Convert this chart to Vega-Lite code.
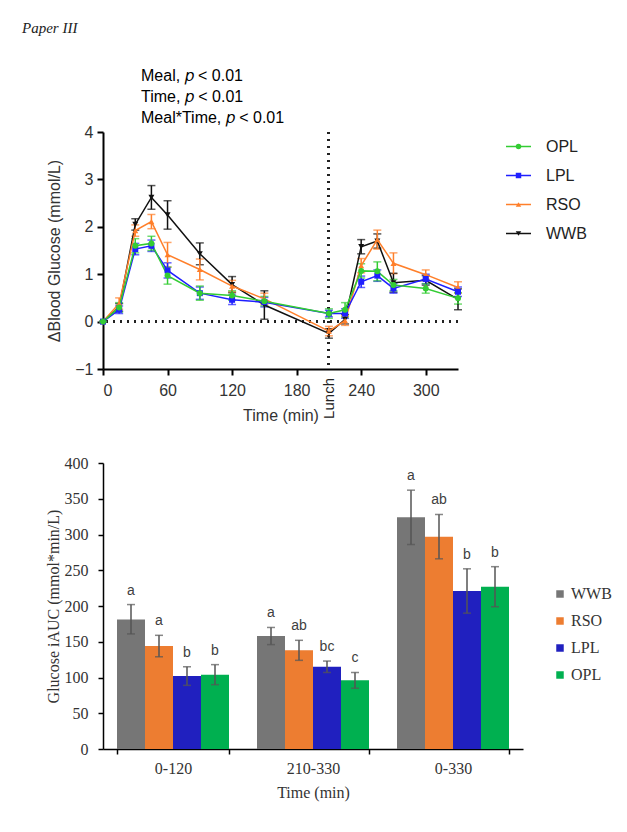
{
  "$schema": "https://vega.github.io/schema/vega-lite/v6.json",
  "background": "white",
  "padding": {"left": 22, "top": 21, "right": 5, "bottom": 5},
  "title": {"text": "Paper III", "anchor": "start", "frame": "bounds", "dx": -23, "font": "Liberation Serif", "fontStyle": "italic", "fontSize": 15, "fontWeight": "normal", "color": "#222", "offset": 32},
  "datasets": {
    "glucose": [
      {"meal": "WWB", "time": 0, "mean": 0, "err": 0},
      {"meal": "WWB", "time": 15, "mean": 0.3, "err": 0.08},
      {"meal": "WWB", "time": 30, "mean": 2.05, "err": 0.12},
      {"meal": "WWB", "time": 45, "mean": 2.62, "err": 0.25},
      {"meal": "WWB", "time": 60, "mean": 2.25, "err": 0.3},
      {"meal": "WWB", "time": 90, "mean": 1.43, "err": 0.23},
      {"meal": "WWB", "time": 120, "mean": 0.78, "err": 0.17},
      {"meal": "WWB", "time": 150, "mean": 0.35, "err": 0.3},
      {"meal": "WWB", "time": 210, "mean": -0.25, "err": 0.1},
      {"meal": "WWB", "time": 225, "mean": 0.05, "err": 0.1},
      {"meal": "WWB", "time": 240, "mean": 1.58, "err": 0.15},
      {"meal": "WWB", "time": 255, "mean": 1.7, "err": 0.15},
      {"meal": "WWB", "time": 270, "mean": 0.82, "err": 0.2},
      {"meal": "WWB", "time": 300, "mean": 0.87, "err": 0.1},
      {"meal": "WWB", "time": 330, "mean": 0.47, "err": 0.22},
      {"meal": "RSO", "time": 0, "mean": 0, "err": 0},
      {"meal": "RSO", "time": 15, "mean": 0.38, "err": 0.12},
      {"meal": "RSO", "time": 30, "mean": 1.92, "err": 0.12},
      {"meal": "RSO", "time": 45, "mean": 2.11, "err": 0.15},
      {"meal": "RSO", "time": 60, "mean": 1.41, "err": 0.26},
      {"meal": "RSO", "time": 90, "mean": 1.1, "err": 0.22},
      {"meal": "RSO", "time": 120, "mean": 0.75, "err": 0.12},
      {"meal": "RSO", "time": 150, "mean": 0.48, "err": 0.12},
      {"meal": "RSO", "time": 210, "mean": -0.2, "err": 0.1},
      {"meal": "RSO", "time": 225, "mean": 0.02, "err": 0.1},
      {"meal": "RSO", "time": 240, "mean": 1.18, "err": 0.15},
      {"meal": "RSO", "time": 255, "mean": 1.73, "err": 0.2},
      {"meal": "RSO", "time": 270, "mean": 1.23, "err": 0.22},
      {"meal": "RSO", "time": 300, "mean": 0.99, "err": 0.1},
      {"meal": "RSO", "time": 330, "mean": 0.72, "err": 0.12},
      {"meal": "LPL", "time": 0, "mean": 0, "err": 0},
      {"meal": "LPL", "time": 15, "mean": 0.25, "err": 0.08},
      {"meal": "LPL", "time": 30, "mean": 1.53, "err": 0.12},
      {"meal": "LPL", "time": 45, "mean": 1.6, "err": 0.12},
      {"meal": "LPL", "time": 60, "mean": 1.08, "err": 0.16},
      {"meal": "LPL", "time": 90, "mean": 0.6, "err": 0.13},
      {"meal": "LPL", "time": 120, "mean": 0.46, "err": 0.1},
      {"meal": "LPL", "time": 150, "mean": 0.41, "err": 0.1},
      {"meal": "LPL", "time": 210, "mean": 0.17, "err": 0.07},
      {"meal": "LPL", "time": 225, "mean": 0.17, "err": 0.1},
      {"meal": "LPL", "time": 240, "mean": 0.84, "err": 0.12},
      {"meal": "LPL", "time": 255, "mean": 0.97, "err": 0.12},
      {"meal": "LPL", "time": 270, "mean": 0.7, "err": 0.1},
      {"meal": "LPL", "time": 300, "mean": 0.9, "err": 0.1},
      {"meal": "LPL", "time": 330, "mean": 0.63, "err": 0.1},
      {"meal": "OPL", "time": 0, "mean": 0, "err": 0},
      {"meal": "OPL", "time": 15, "mean": 0.3, "err": 0.1},
      {"meal": "OPL", "time": 30, "mean": 1.6, "err": 0.15},
      {"meal": "OPL", "time": 45, "mean": 1.65, "err": 0.15},
      {"meal": "OPL", "time": 60, "mean": 0.97, "err": 0.18},
      {"meal": "OPL", "time": 90, "mean": 0.6, "err": 0.15},
      {"meal": "OPL", "time": 120, "mean": 0.55, "err": 0.1},
      {"meal": "OPL", "time": 150, "mean": 0.43, "err": 0.1},
      {"meal": "OPL", "time": 210, "mean": 0.17, "err": 0.1},
      {"meal": "OPL", "time": 225, "mean": 0.25, "err": 0.15},
      {"meal": "OPL", "time": 240, "mean": 1.07, "err": 0.15},
      {"meal": "OPL", "time": 255, "mean": 1.06, "err": 0.2},
      {"meal": "OPL", "time": 270, "mean": 0.77, "err": 0.12},
      {"meal": "OPL", "time": 300, "mean": 0.7, "err": 0.1},
      {"meal": "OPL", "time": 330, "mean": 0.49, "err": 0.12}
    ],
    "meals": [
      {"meal": "OPL"}, {"meal": "LPL"}, {"meal": "RSO"}, {"meal": "WWB"}
    ],
    "auc": [
      {"period": "0-120", "meal": "WWB", "mean": 181, "lo": 161, "hi": 202, "letter": "a"},
      {"period": "0-120", "meal": "RSO", "mean": 144, "lo": 129, "hi": 159, "letter": "a"},
      {"period": "0-120", "meal": "LPL", "mean": 102, "lo": 89, "hi": 115, "letter": "b"},
      {"period": "0-120", "meal": "OPL", "mean": 104, "lo": 90, "hi": 118, "letter": "b"},
      {"period": "210-330", "meal": "WWB", "mean": 158, "lo": 146, "hi": 170, "letter": "a"},
      {"period": "210-330", "meal": "RSO", "mean": 138, "lo": 124, "hi": 152, "letter": "ab"},
      {"period": "210-330", "meal": "LPL", "mean": 115, "lo": 107, "hi": 123, "letter": "bc"},
      {"period": "210-330", "meal": "OPL", "mean": 96, "lo": 85, "hi": 107, "letter": "c"},
      {"period": "0-330", "meal": "WWB", "mean": 324, "lo": 286, "hi": 362, "letter": "a"},
      {"period": "0-330", "meal": "RSO", "mean": 297, "lo": 266, "hi": 328, "letter": "ab"},
      {"period": "0-330", "meal": "LPL", "mean": 221, "lo": 190, "hi": 252, "letter": "b"},
      {"period": "0-330", "meal": "OPL", "mean": 227, "lo": 199, "hi": 255, "letter": "b"}
    ]
  },
  "resolve": {"scale": {"color": "independent", "shape": "independent"}, "legend": {"color": "independent"}},
  "align": "none",
  "spacing": 32,
  "vconcat": [
    {
      "resolve": {"scale": {"color": "independent", "shape": "independent"}},
      "spacing": 43,
      "hconcat": [
        {
          "width": 355,
          "height": 237,
          "title": {"text": ["Meal, 𝑝 < 0.01", "Time, 𝑝 < 0.01", "Meal*Time, 𝑝 < 0.01"], "anchor": "start", "frame": "group", "dx": 38, "font": "Liberation Sans", "fontSize": 16, "fontWeight": "normal", "lineHeight": 21, "offset": -2, "color": "#000"},
          "data": {"name": "glucose"},
          "layer": [
            {
              "mark": {"type": "rule", "strokeDash": [2, 5], "strokeWidth": 2, "color": "#222"},
              "encoding": {"y": {"datum": 0, "type": "quantitative"}}
            },
            {
              "mark": {"type": "rule", "strokeDash": [2, 5], "strokeWidth": 2, "color": "#222"},
              "encoding": {"x": {"datum": 210, "type": "quantitative"}}
            },
            {
              "mark": {"type": "errorbar", "ticks": {"size": 8, "strokeWidth": 1.5}, "thickness": 1.5},
              "encoding": {
                "x": {"field": "time", "type": "quantitative", "title": "Time (min)"},
                "y": {"field": "mean", "type": "quantitative", "title": "ΔBlood Glucose (mmol/L)"},
                "yError": {"field": "err"},
                "color": {"field": "meal", "type": "nominal", "legend": null,
                  "scale": {"domain": ["OPL", "LPL", "RSO", "WWB"], "range": ["#33CC33", "#1F1FFF", "#FF7F2A", "#111111"]}}
              }
            },
            {
              "mark": {"type": "line", "strokeWidth": 1.5},
              "encoding": {
                "x": {"field": "time", "type": "quantitative", "title": "Time (min)"},
                "y": {"field": "mean", "type": "quantitative", "title": "ΔBlood Glucose (mmol/L)"},
                "color": {"field": "meal", "type": "nominal", "legend": null,
                  "scale": {"domain": ["OPL", "LPL", "RSO", "WWB"], "range": ["#33CC33", "#1F1FFF", "#FF7F2A", "#111111"]}}
              }
            },
            {
              "mark": {"type": "point", "filled": true, "size": 36, "opacity": 1},
              "encoding": {
                "x": {"field": "time", "type": "quantitative", "title": "Time (min)",
                  "scale": {"domain": [0, 330], "nice": false},
                  "axis": {"values": [0, 60, 120, 180, 240, 300], "labelPadding": 7, "titlePadding": 9}},
                "y": {"field": "mean", "type": "quantitative", "title": "ΔBlood Glucose (mmol/L)",
                  "scale": {"domain": [-1, 4], "nice": false},
                  "axis": {"values": [-1, 0, 1, 2, 3, 4], "titlePadding": 12}},
                "color": {"field": "meal", "type": "nominal", "legend": null,
                  "scale": {"domain": ["OPL", "LPL", "RSO", "WWB"], "range": ["#33CC33", "#1F1FFF", "#FF7F2A", "#111111"]}},
                "shape": {"field": "meal", "type": "nominal", "legend": null,
                  "scale": {"domain": ["OPL", "LPL", "RSO", "WWB"], "range": ["circle", "square", "triangle-up", "triangle-down"]}}
              }
            },
            {
              "data": {"values": [{}]},
              "mark": {"type": "text", "text": "Lunch", "angle": 270, "align": "right", "baseline": "middle", "dx": -9, "font": "Liberation Sans", "fontSize": 15, "color": "#222"},
              "encoding": {"x": {"datum": 210, "type": "quantitative"}, "y": {"datum": -1, "type": "quantitative"}}
            }
          ]
        },
        {
          "width": 25,
          "height": 116,
          "data": {"name": "meals"},
          "encoding": {
            "y": {"field": "meal", "type": "nominal", "sort": ["OPL", "LPL", "RSO", "WWB"], "axis": null}
          },
          "layer": [
            {
              "mark": {"type": "rule", "strokeWidth": 1.5},
              "encoding": {
                "x": {"datum": 0, "type": "quantitative", "scale": {"domain": [0, 1]}, "axis": null},
                "x2": {"datum": 1},
                "color": {"field": "meal", "type": "nominal", "legend": null,
                  "scale": {"domain": ["OPL", "LPL", "RSO", "WWB"], "range": ["#33CC33", "#1F1FFF", "#FF7F2A", "#111111"]}}
              }
            },
            {
              "mark": {"type": "point", "filled": true, "size": 30, "opacity": 1},
              "encoding": {
                "x": {"datum": 0.5, "type": "quantitative"},
                "color": {"field": "meal", "type": "nominal", "legend": null,
                  "scale": {"domain": ["OPL", "LPL", "RSO", "WWB"], "range": ["#33CC33", "#1F1FFF", "#FF7F2A", "#111111"]}},
                "shape": {"field": "meal", "type": "nominal", "legend": null,
                  "scale": {"domain": ["OPL", "LPL", "RSO", "WWB"], "range": ["circle", "square", "triangle-up", "triangle-down"]}}
              }
            },
            {
              "mark": {"type": "text", "align": "left", "baseline": "middle", "dx": 15, "font": "Liberation Sans", "fontSize": 16, "color": "#222"},
              "encoding": {
                "x": {"datum": 1, "type": "quantitative"},
                "text": {"field": "meal"}
              }
            }
          ]
        }
      ]
    },
    {
      "width": 420,
      "height": 286,
      "data": {"name": "auc"},
      "encoding": {
        "x": {"field": "period", "type": "nominal", "sort": ["0-120", "210-330", "0-330"],
          "scale": {"paddingInner": 0.2, "paddingOuter": 0.1},
          "axis": {"title": "Time (min)", "labelAngle": 0, "tickBand": "extent", "labelFont": "Liberation Serif", "titleFont": "Liberation Serif", "labelFontSize": 16, "titleFontSize": 16, "tickSize": 5, "domainWidth": 1.5, "tickWidth": 1.5, "labelPadding": 6, "titlePadding": 8, "labelColor": "#333", "titleColor": "#333"}},
        "xOffset": {"field": "meal", "type": "nominal", "sort": ["WWB", "RSO", "LPL", "OPL"], "scale": {"paddingInner": 0, "paddingOuter": 0}}
      },
      "layer": [
        {
          "mark": {"type": "bar"},
          "encoding": {
            "y": {"field": "mean", "type": "quantitative",
              "scale": {"domain": [0, 400], "nice": false},
              "axis": {"title": "Glucose iAUC (mmol*min/L)", "values": [0, 50, 100, 150, 200, 250, 300, 350, 400], "labelOverlap": false, "labelFont": "Liberation Serif", "titleFont": "Liberation Serif", "labelFontSize": 16, "titleFontSize": 16, "tickSize": 5, "domainWidth": 1.5, "tickWidth": 1.5, "labelPadding": 10, "titlePadding": 3, "labelColor": "#333", "titleColor": "#333"}},
            "color": {"field": "meal", "type": "nominal",
              "scale": {"domain": ["WWB", "RSO", "LPL", "OPL"], "range": ["#767676", "#ED7D31", "#2020BF", "#00B050"]},
              "legend": {"title": null, "orient": "none", "legendX": 449, "legendY": 123, "symbolType": "square", "symbolSize": 56, "labelFont": "Liberation Serif", "labelFontSize": 16, "labelColor": "#333", "rowPadding": 11, "labelOffset": 3, "symbolStrokeWidth": 0}}
          }
        },
        {
          "mark": {"type": "rule", "color": "#555", "strokeWidth": 1.5},
          "encoding": {
            "y": {"field": "lo", "type": "quantitative",
              "axis": {"title": "Glucose iAUC (mmol*min/L)", "values": [0, 50, 100, 150, 200, 250, 300, 350, 400], "labelOverlap": false, "labelFont": "Liberation Serif", "titleFont": "Liberation Serif", "labelFontSize": 16, "titleFontSize": 16, "tickSize": 5, "domainWidth": 1.5, "tickWidth": 1.5, "labelPadding": 10, "titlePadding": 3, "labelColor": "#333", "titleColor": "#333"}},
            "y2": {"field": "hi"}
          }
        },
        {
          "mark": {"type": "tick", "color": "#555", "thickness": 1.5, "size": 8},
          "encoding": {
            "y": {"field": "lo", "type": "quantitative",
              "axis": {"title": "Glucose iAUC (mmol*min/L)", "values": [0, 50, 100, 150, 200, 250, 300, 350, 400], "labelOverlap": false, "labelFont": "Liberation Serif", "titleFont": "Liberation Serif", "labelFontSize": 16, "titleFontSize": 16, "tickSize": 5, "domainWidth": 1.5, "tickWidth": 1.5, "labelPadding": 10, "titlePadding": 3, "labelColor": "#333", "titleColor": "#333"}}
          }
        },
        {
          "mark": {"type": "tick", "color": "#555", "thickness": 1.5, "size": 8},
          "encoding": {
            "y": {"field": "hi", "type": "quantitative",
              "axis": {"title": "Glucose iAUC (mmol*min/L)", "values": [0, 50, 100, 150, 200, 250, 300, 350, 400], "labelOverlap": false, "labelFont": "Liberation Serif", "titleFont": "Liberation Serif", "labelFontSize": 16, "titleFontSize": 16, "tickSize": 5, "domainWidth": 1.5, "tickWidth": 1.5, "labelPadding": 10, "titlePadding": 3, "labelColor": "#333", "titleColor": "#333"}}
          }
        },
        {
          "mark": {"type": "text", "baseline": "bottom", "dy": -7, "font": "Liberation Sans", "fontSize": 14, "color": "#404040"},
          "encoding": {
            "y": {"field": "hi", "type": "quantitative",
              "axis": {"title": "Glucose iAUC (mmol*min/L)", "values": [0, 50, 100, 150, 200, 250, 300, 350, 400], "labelOverlap": false, "labelFont": "Liberation Serif", "titleFont": "Liberation Serif", "labelFontSize": 16, "titleFontSize": 16, "tickSize": 5, "domainWidth": 1.5, "tickWidth": 1.5, "labelPadding": 10, "titlePadding": 3, "labelColor": "#333", "titleColor": "#333"}},
            "text": {"field": "letter"}
          }
        }
      ]
    }
  ],
  "config": {
    "view": {"stroke": null},
    "axis": {"grid": false, "domainColor": "#000", "tickColor": "#000", "labelFont": "Liberation Sans", "titleFont": "Liberation Sans", "labelFontSize": 16, "titleFontSize": 16, "titleFontWeight": "normal", "labelColor": "#333", "titleColor": "#333", "domainWidth": 2, "tickWidth": 2, "tickSize": 6, "labelPadding": 4, "titlePadding": 8}
  }
}
